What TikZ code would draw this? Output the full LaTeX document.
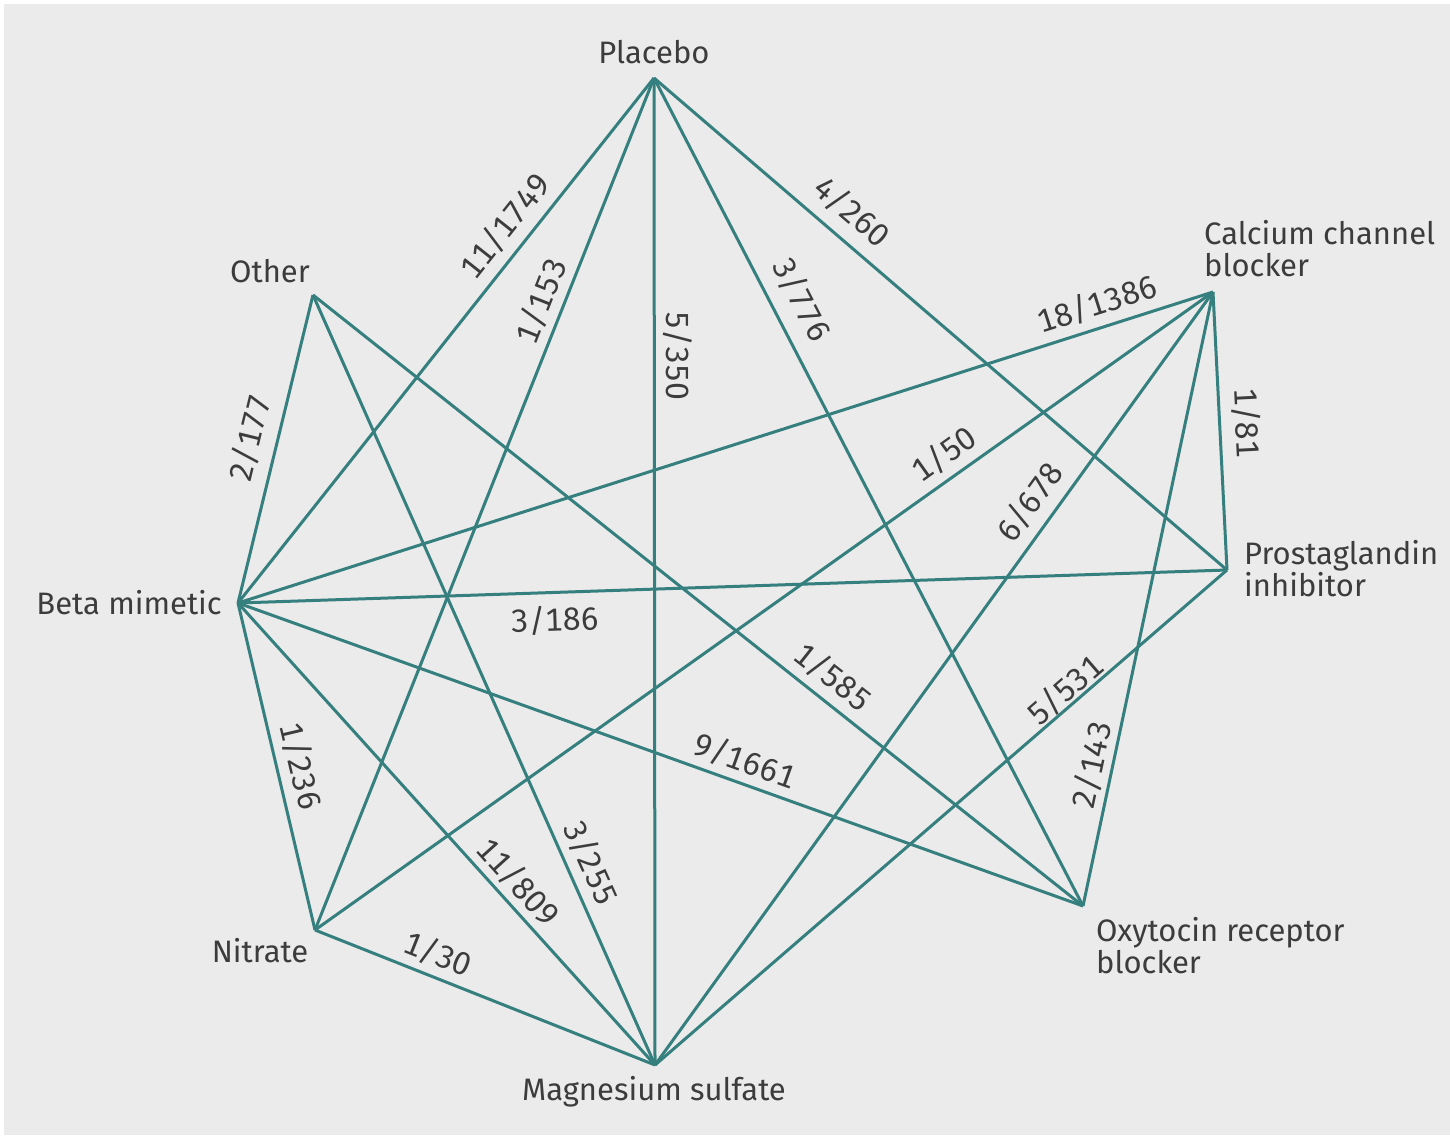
\documentclass[tikz,border=0pt]{standalone}
\usepackage{fontspec}
\setmainfont{Fira Sans}[Numbers={Monospaced,Lining}]
\definecolor{bg}{HTML}{EBEBEB}
\definecolor{teal}{HTML}{357F7F}
\definecolor{txt}{HTML}{3C3C3C}
\begin{document}
\begin{tikzpicture}[x=1pt,y=-1pt,
  edge/.style={draw=teal,line width=3pt},
  vlab/.style={text=txt,font=\fontsize{31}{32}\selectfont,inner sep=0pt},
  vlabl/.style={vlab,align=left,anchor=west},
  nlab/.style={text=txt,font=\fontsize{32}{34}\selectfont,inner sep=0pt}]
\useasboundingbox (0,0) rectangle (1450,1135);
\fill[white] (0,0) rectangle (1450,1135);
\fill[bg] (4,4) rectangle (1450,1135);
% vertices
\coordinate (P) at (654,78);
\coordinate (O) at (313,295);
\coordinate (C) at (1213,292);
\coordinate (B) at (238,603);
\coordinate (G) at (1227,570);
\coordinate (N) at (315,930);
\coordinate (X) at (1083,906);
\coordinate (M) at (655,1065);
% edges
\draw[edge] (P) -- (B);
\draw[edge] (P) -- (N);
\draw[edge] (P) -- (M);
\draw[edge] (P) -- (X);
\draw[edge] (P) -- (G);
\draw[edge] (O) -- (B);
\draw[edge] (O) -- (M);
\draw[edge] (O) -- (X);
\draw[edge] (C) -- (B);
\draw[edge] (C) -- (N);
\draw[edge] (C) -- (M);
\draw[edge] (C) -- (X);
\draw[edge] (C) -- (G);
\draw[edge] (B) -- (G);
\draw[edge] (B) -- (X);
\draw[edge] (B) -- (M);
\draw[edge] (B) -- (N);
\draw[edge] (N) -- (M);
\draw[edge] (G) -- (M);
% vertex labels
\node[vlab] (lP) at (654,52) {Placebo};
\node[vlab] (lO) at (270,271) {Other};
\node[vlabl] (lC) at (1204,249) {Calcium channel\\blocker};
\node[vlab,anchor=east] (lB) at (222,603) {Beta mimetic};
\node[vlabl] (lG) at (1244,569) {Prostaglandin\\inhibitor};
\node[vlab] (lN) at (260,951) {Nitrate};
\node[vlabl] (lX) at (1096,946) {Oxytocin receptor\\blocker};
\node[vlab] (lM) at (654,1092) {Magnesium sulfate};
% edge labels
\node[nlab,rotate=51.6] (e1) at (505,226) {11/1749};
\node[nlab,rotate=68.3] (e2) at (541,301) {1/153};
\node[nlab,rotate=-90] (e3) at (678,356) {5/350};
\node[nlab,rotate=-62.6] (e4) at (802,300) {3/776};
\node[nlab,rotate=-40.6] (e5) at (852,212) {4/260};
\node[nlab,rotate=17.7] (e6) at (1097,304) {18/1386};
\node[nlab,rotate=-87.1] (e7) at (1247,423) {1/81};
\node[nlab,rotate=76.3] (e8) at (250,438) {2/177};
\node[nlab,rotate=35.4] (e9) at (944,454) {1/50};
\node[nlab,rotate=54.2] (e10) at (1030,502) {6/678};
\node[nlab,rotate=1.9] (e11) at (555,620) {3/186};
\node[nlab,rotate=-38.4] (e12) at (833,677) {1/585};
\node[nlab,rotate=40.9] (e13) at (1065,690) {5/531};
\node[nlab,rotate=78.0] (e14) at (1092,765) {2/143};
\node[nlab,rotate=-19.7] (e15) at (745,761) {9/1661};
\node[nlab,rotate=-76.7] (e16) at (301,766) {1/236};
\node[nlab,rotate=-47.9] (e17) at (518,882) {11/809};
\node[nlab,rotate=-66] (e18) at (591,863) {3/255};
\node[nlab,rotate=-21.7] (e19) at (438,954) {1/30};
\end{tikzpicture}
\end{document}
